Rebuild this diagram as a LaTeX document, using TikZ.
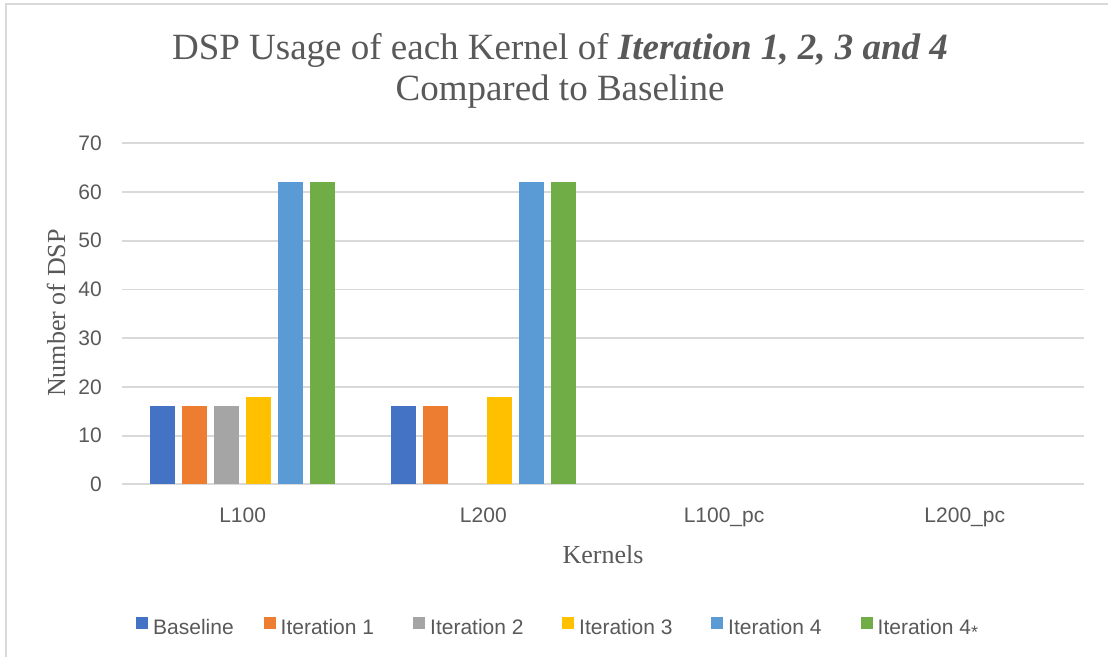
\documentclass[tikz,border=0pt]{standalone}
\usepackage{fontspec}
\setmainfont{Liberation Serif}
\newfontfamily\labelfont{Liberation Sans}
\definecolor{txtgray}{HTML}{595959}
\definecolor{gridgray}{HTML}{D9D9D9}
\definecolor{serbase}{HTML}{4472C4}
\definecolor{serone}{HTML}{ED7D31}
\definecolor{sertwo}{HTML}{A5A5A5}
\definecolor{serthree}{HTML}{FFC000}
\definecolor{serfour}{HTML}{5B9BD5}
\definecolor{serfourstar}{HTML}{70AD47}
\newcommand{\lowstar}{\raisebox{-4pt}{\fontsize{18}{20}\selectfont *}}
\tikzset{
  titletext/.style={text=txtgray, font=\fontsize{37}{44}\selectfont, inner sep=0pt, anchor=base},
  axistitle/.style={text=txtgray, font=\fontsize{26}{30}\selectfont, inner sep=0pt},
  ticklbl/.style={text=txtgray, font=\labelfont\fontsize{21}{25}\selectfont, inner sep=0pt},
  legendlbl/.style={text=txtgray, font=\labelfont\fontsize{21}{25}\selectfont, inner sep=0pt, anchor=base west},
  gridline/.style={draw=gridgray, line width=1.8pt},
  frameline/.style={draw=gridgray, line width=1.5pt},
}
\begin{document}
\begin{tikzpicture}[x=1pt,y=-1pt]
\useasboundingbox (0,0) rectangle (1108,657);
\fill[white] (0,0) rectangle (1108,657);
% chart frame
\draw[frameline] (6,657) -- (6,4) -- (1108,4);

% title
\node[titletext] (title1) at (560,59) {DSP Usage of each Kernel of \textbf{\textit{Iteration 1, 2, 3 and 4}}};
\node[titletext] (title2) at (560,100) {Compared to Baseline};

% horizontal grid and value labels
\foreach \v in {0,...,7} {
  \draw[gridline] (122.3,{484.3-\v*48.71}) -- (1084,{484.3-\v*48.71});
  \node[ticklbl, anchor=east] (tick\v) at (102,{484.3-\v*48.71}) {\the\numexpr\v*10\relax};
}

% bars: category / series / value / colour
\foreach \c/\j/\val/\col in {
  0/0/16/serbase, 0/1/16/serone, 0/2/16/sertwo, 0/3/18/serthree, 0/4/62/serfour, 0/5/62/serfourstar,
  1/0/16/serbase, 1/1/16/serone, 1/3/18/serthree, 1/4/62/serfour, 1/5/62/serfourstar} {
  \fill[\col] ({122.3+240.7*(\c+0.5)+(\j-2.5)*32-12.5},484.3) rectangle ++(25,{-\val*4.871});
}

% category labels
\foreach \c/\name in {0/L100, 1/L200, 2/L100\_pc, 3/L200\_pc} {
  \node[ticklbl, anchor=base] (cat\c) at ({122.3+240.7*(\c+0.5)},522) {\name};
}

% axis titles
\node[axistitle, rotate=90] (ytitle) at (56,313) {Number of DSP};
\node[axistitle, anchor=base] (xtitle) at (603,563) {Kernels};

% legend
\foreach \i/\x/\col/\name in {
  0/136/serbase/Baseline, 1/263.5/serone/Iteration 1, 2/413/sertwo/Iteration 2,
  3/562/serthree/Iteration 3, 4/711/serfour/Iteration 4, 5/860.5/serfourstar/Iteration 4\lowstar} {
  \fill[\col] (\x,617) rectangle ++(12,12);
  \node[legendlbl] (leg\i) at (\x+17,634) {\name};
}
\end{tikzpicture}
\end{document}
